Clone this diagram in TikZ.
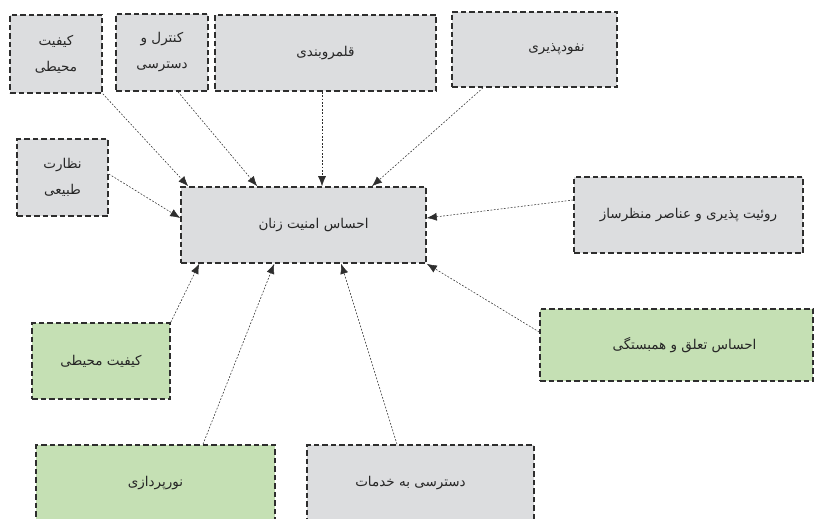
\documentclass[tikz,border=0pt]{standalone}
\usepackage{fontspec}
\TeXXeTstate=1
\newfontfamily\arabicfont[Script=Arabic]{DejaVu Sans}
\usetikzlibrary{arrows.meta}
\definecolor{boxgray}{HTML}{DCDDDF}
\definecolor{boxgreen}{HTML}{C5E0B4}
\definecolor{edgecol}{HTML}{2E2E2E}
\newcommand{\boxfont}{\arabicfont\fontsize{13.5}{26}\selectfont}
\begin{document}
\begin{tikzpicture}[x=1pt,y=-1pt,
  box/.style={draw=edgecol, line width=1.6pt, dash pattern=on 5.5pt off 3pt,
    inner sep=0pt, align=center, font=\boxfont, text=black!85},
  lbl/.style={font=\boxfont, text=black!85},
  graybox/.style={box, fill=boxgray},
  greenbox/.style={box, fill=boxgreen},
  conn/.style={draw=edgecol, line width=0.55pt, dash pattern=on 1.8pt off 1.6pt,
    -{Latex[length=10pt,width=8pt]}}
]
\useasboundingbox (0,0) rectangle (819,519);
\fill[white] (0,0) rectangle (819,519);

\node[graybox, minimum width=92pt, minimum height=78pt] (b1) at (56,54)
  {\beginR کیفیت\endR\\\beginR محیطی\endR};
\node[graybox, minimum width=92pt, minimum height=77pt] (b2) at (162,52.5)
  {\beginR کنترل و\endR\\\beginR دسترسی\endR};
\node[graybox, minimum width=221pt, minimum height=76pt] (b3) at (325.5,53)
  {\beginR قلمروبندی\endR};
\node[graybox, minimum width=165pt, minimum height=75pt,
  label={[lbl, xshift=22pt]center:\beginR نفودپذیری\endR}] (b4) at (534.5,49.5) {};
\node[graybox, minimum width=91pt, minimum height=77pt] (b5) at (62.5,177.5)
  {\beginR نظارت\endR\\\beginR طبیعی\endR};
\node[graybox, minimum width=245pt, minimum height=76pt,
  label={[lbl, xshift=10pt]center:\beginR احساس امنیت زنان\endR}] (c) at (303.5,225) {};
\node[graybox, minimum width=229pt, minimum height=76pt] (r) at (688.5,215)
  {\beginR روئیت پذیری و عناصر منظرساز\endR};
\node[greenbox, minimum width=273pt, minimum height=72pt,
  label={[lbl, xshift=8pt]center:\beginR احساس تعلق و همبستگی\endR}] (g1) at (676.5,345) {};
\node[greenbox, minimum width=138pt, minimum height=76pt] (g2) at (101,361)
  {\beginR کیفیت محیطی\endR};
\node[greenbox, minimum width=239pt, minimum height=85pt,
  label={[lbl, yshift=4.5pt]center:\beginR نورپردازی\endR}] (g3) at (155.5,487.5) {};
\node[graybox, minimum width=227pt, minimum height=85pt,
  label={[lbl, xshift=-10pt, yshift=4.5pt]center:\beginR دسترسی به خدمات\endR}] (g4) at (420.5,487.5) {};

\draw[conn] (b1.south east) -- ([xshift=8pt]c.north west);
\draw[conn] ([xshift=16pt]b2.south) -- ([xshift=77pt]c.north west);
\draw[conn] ([xshift=-3.5pt]b3.south) -- ([xshift=18.5pt]c.north);
\draw[conn] ([xshift=-51.5pt]b4.south) -- ([xshift=68.5pt]c.north);
\draw[conn] ([yshift=3.5pt]b5.east) -- ([yshift=7pt]c.west);
\draw[conn] ([yshift=15pt]r.west) -- ([yshift=7pt]c.east);
\draw[conn] ([yshift=13pt]g1.west) -- (c.south east);
\draw[conn] (g2.north east) -- ([xshift=19pt]c.south west);
\draw[conn] ([xshift=47.5pt]g3.north) -- ([xshift=94pt]c.south west);
\draw[conn] ([xshift=-23.5pt]g4.north) -- ([xshift=161pt]c.south west);
\end{tikzpicture}
\end{document}
